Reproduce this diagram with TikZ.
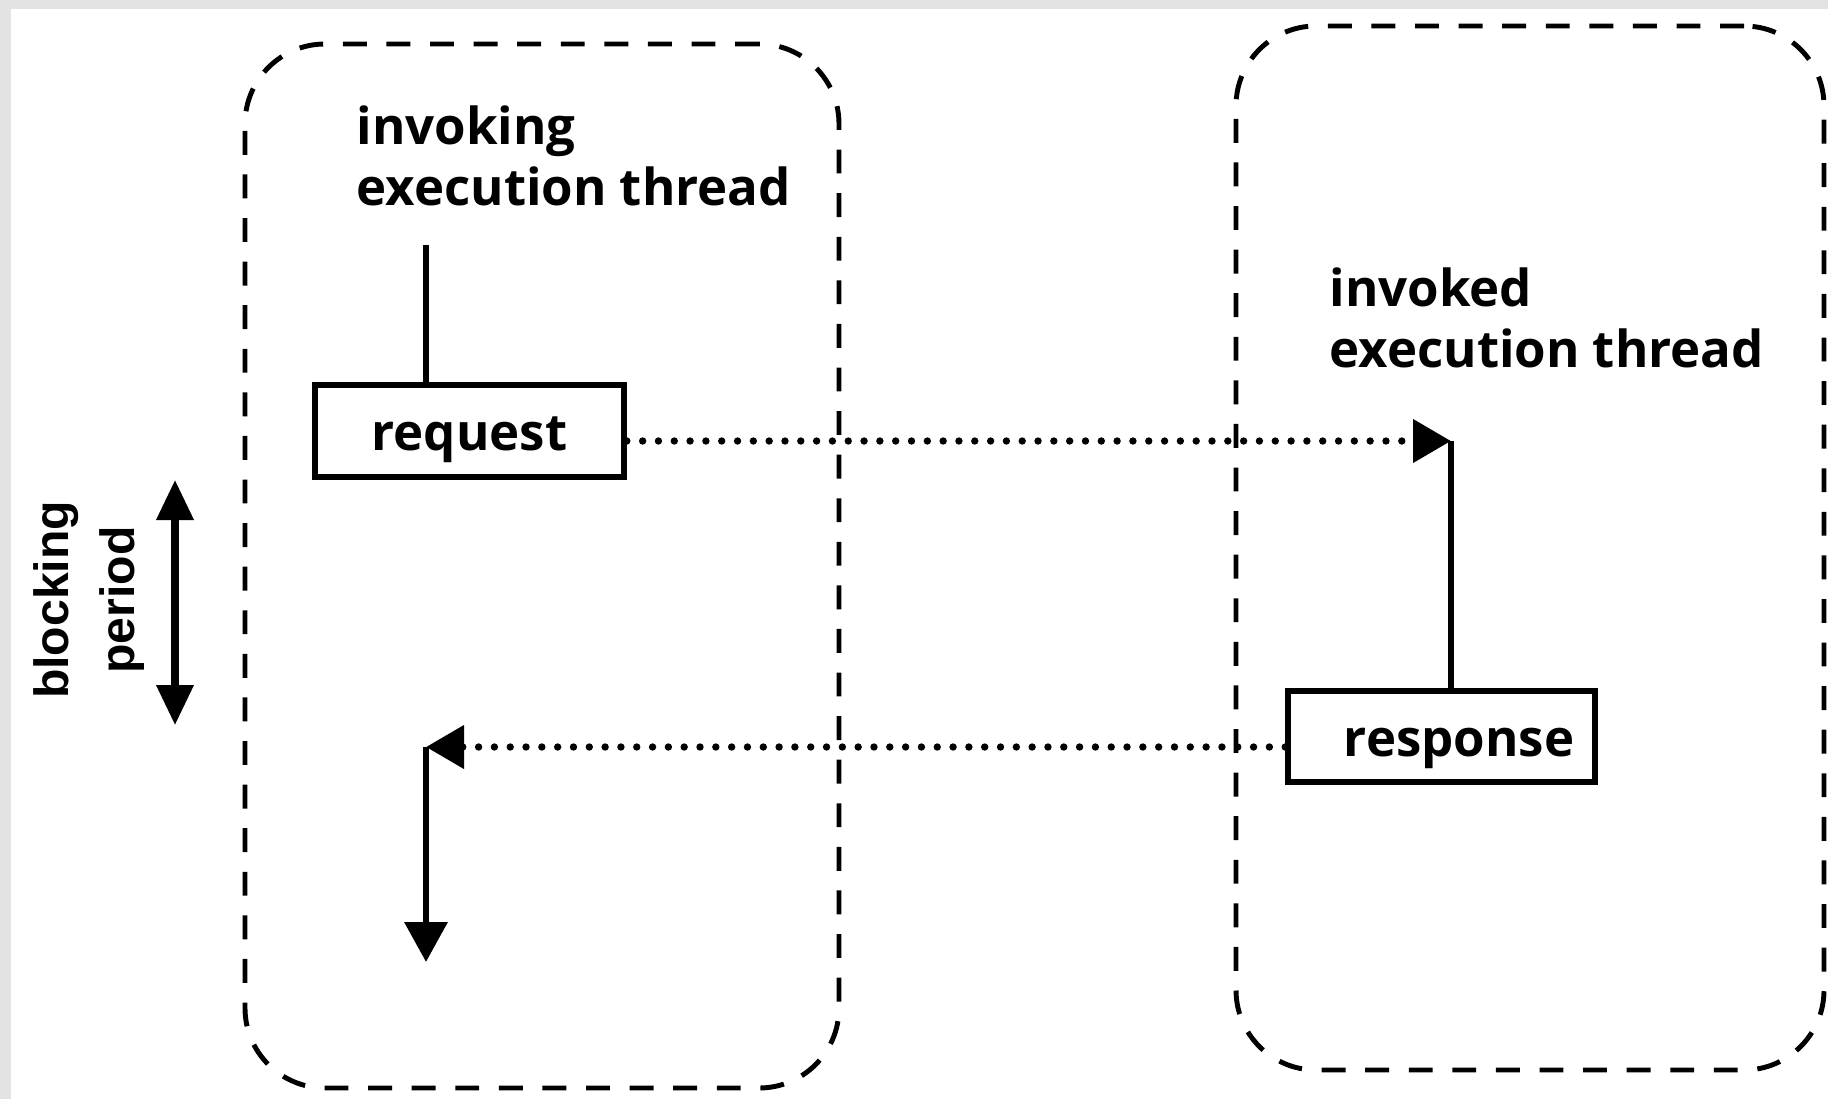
\documentclass[tikz,border=0pt]{standalone}
\usepackage{fontspec}
\setmainfont{Open Sans}
\newfontfamily\arialfont{Liberation Sans}
\usetikzlibrary{arrows.meta,positioning,calc}

\begin{document}
\begin{tikzpicture}[
  font=\bfseries\fontsize{14.5}{17.5}\selectfont,
  thread/.style   ={draw, dashed, dash pattern=on 6.8pt off 5.6pt, line width=1.4pt,
                    rounded corners=8mm, inner sep=0pt},
  msgbox/.style   ={draw, line width=1.6pt, fill=white, inner sep=0pt,
                    text height=2.3ex, text depth=0.2ex},
  flow/.style     ={line width=1.9pt, draw=black},
  call/.style     ={line width=2.1pt, line cap=round, dash pattern=on 0pt off 4.5pt,
                    -{Triangle[length=3.8mm, width=4.2mm]}},
  tlabel/.style   ={align=left, inner sep=0pt, anchor=west},
  period/.style   ={{Triangle[length=4mm, width=3.6mm]}-{Triangle[length=4mm, width=3.6mm]},
                    line width=2pt}
]

% =================== CANVAS ===================
\useasboundingbox (0,0) rectangle (18.28,10.99);
\fill[black!11] (0,0) rectangle (18.28,10.99);
\fill[white] (0.11,0) rectangle (18.28,10.90);

% =================== THREADS ===================
\node[thread, minimum width=5.94cm, minimum height=10.44cm] (caller) at (5.42, 5.33) {};
\node[thread, minimum width=5.88cm, minimum height=10.44cm] (callee) at (15.30, 5.51) {};

\node[tlabel] (callerlbl) at (3.56, 9.43) {invoking\\execution thread};
\node[tlabel] (calleelbl) at (13.29, 7.81) {invoked\\execution thread};

% =================== MESSAGES ===================
\node[msgbox, minimum width=3.09cm, minimum height=0.92cm] (request)  at (4.695, 6.68) {request};
\node[msgbox, minimum width=3.07cm, minimum height=0.91cm] (response) at (14.415, 3.625) {\hspace{0.35cm}response};

\coordinate (start) at (4.26, 8.54);
\coordinate (hit)   at (14.51, 6.58);
\coordinate (back)  at (4.26, 3.52);
\coordinate (cont)  at (4.26, 1.37);

% =================== ARROWS ===================
% invoking thread runs into the request
\draw[flow] (start) -- (start |- request.north);

% request -> invoked thread
\draw[call] (request.east |- hit) -- (hit);
\draw[flow] (hit) -- (hit |- response.north);

% response -> invoking thread, which then carries on
\draw[call] (response.west |- back) -- (back);
\draw[flow, -{Triangle[length=4mm, width=4.2mm]}] (back) -- (cont);

% =================== BLOCKING PERIOD ===================
\coordinate (blocktop) at (1.75, 6.19);
\coordinate (blockbot) at (1.75, 3.74);
\draw[period] (blocktop) -- (blockbot);
\node[rotate=90, align=center, inner sep=0pt,
  font=\arialfont\bfseries\fontsize{13.7}{18.7}\selectfont] (blocklbl) at (0.89, 4.99) {blocking\\period};

\end{tikzpicture}
\end{document}
